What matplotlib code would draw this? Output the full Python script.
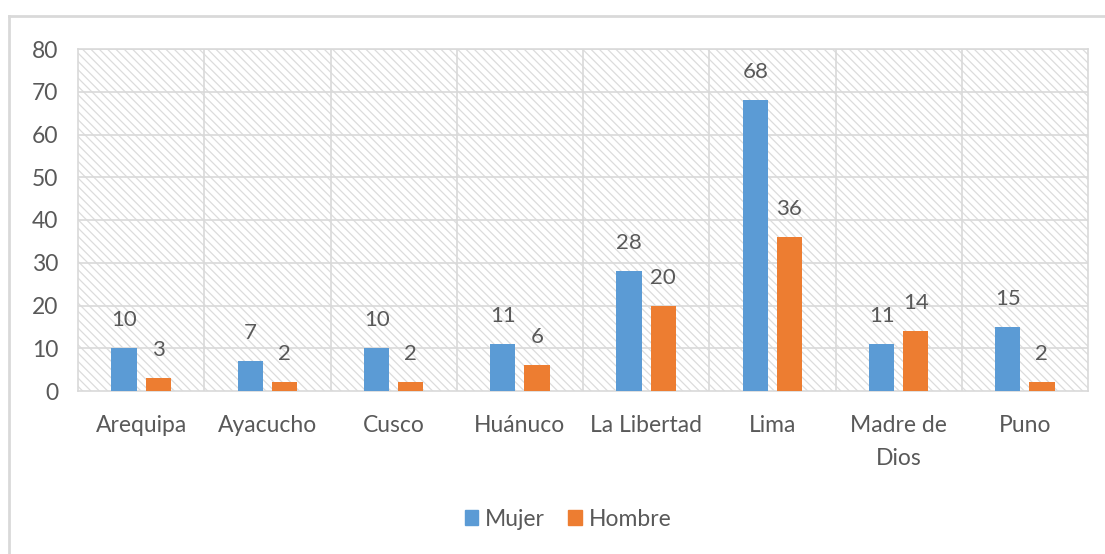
import numpy as np
import matplotlib
matplotlib.use("Agg")
import matplotlib.pyplot as plt
from matplotlib.lines import Line2D
from matplotlib.patches import Patch

departamentos = ["Arequipa", "Ayacucho", "Cusco", "Huánuco", "La Libertad",
                 "Lima", "Madre de\nDios", "Puno"]
mujer = [10, 7, 10, 11, 28, 68, 11, 15]
hombre = [3, 2, 2, 6, 20, 36, 14, 2]
yticks = [0, 10, 20, 30, 40, 50, 60, 70, 80]

azul = "#5B9BD5"
naranja = "#ED7D31"
gris_txt = "#595959"
gris_lin = "#D9D9D9"

plt.rcParams["font.family"] = ["Lato", "DejaVu Sans"]
plt.rcParams["hatch.color"] = "#DCDCDC"
plt.rcParams["hatch.linewidth"] = 0.9

fig = plt.figure(figsize=(11.05, 5.54), dpi=100)
ax = fig.add_axes([78 / 1105, 1 - 391 / 554, 1010 / 1105, 342 / 554])

# fondo rayado del area de trazado
ax.patch.set_hatch("\\\\\\\\")
ax.patch.set_edgecolor("#DCDCDC")
ax.patch.set_linewidth(0)

x = np.arange(len(departamentos))
w = 0.2
off = 0.135
b1 = ax.bar(x - off, mujer, w, color=azul, zorder=3)
b2 = ax.bar(x + off, hombre, w, color=naranja, zorder=3)

for bars, vals in ((b1, mujer), (b2, hombre)):
    for r, v in zip(bars, vals):
        ax.annotate(str(v), (r.get_x() + r.get_width() / 2, v),
                    xytext=(0, 18), textcoords="offset pixels",
                    ha="center", va="bottom", fontsize=16, color=gris_txt)

ax.set_xlim(-0.5, len(departamentos) - 0.5)
ax.set_ylim(0, 80)
ax.set_yticks(yticks)
ax.set_xticks(x)
ax.set_xticklabels(departamentos, fontsize=16.5, color=gris_txt, linespacing=1.7)
ax.tick_params(axis="y", labelsize=16.5, labelcolor=gris_txt, length=0, pad=14)
ax.tick_params(axis="x", length=0, pad=17)
for lbl in ax.get_xticklabels():
    lbl.set_verticalalignment("top")

for yv in yticks[1:]:
    ax.axhline(yv, color=gris_lin, lw=1.2, zorder=1)
for xv in np.arange(0.5, len(departamentos) - 0.5, 1):
    ax.axvline(xv, color=gris_lin, lw=1.2, zorder=1)
for s in ax.spines.values():
    s.set_color(gris_lin)
    s.set_linewidth(1.2)

# marco exterior del grafico
fig.add_artist(Line2D([9 / 1105, 9 / 1105], [1 - 16 / 554, -0.05], color=gris_lin,
                      lw=2, transform=fig.transFigure))
fig.add_artist(Line2D([9 / 1105, 1.05], [1 - 16 / 554, 1 - 16 / 554], color=gris_lin,
                      lw=2, transform=fig.transFigure))

handles = [Patch(color=azul, label="Mujer"), Patch(color=naranja, label="Hombre")]
leg = fig.legend(handles=handles, loc="center", bbox_to_anchor=(568 / 1105, 1 - 519 / 554),
                 ncol=2, frameon=False, fontsize=16.5, handlelength=0.6, handleheight=0.6,
                 handletextpad=0.3, columnspacing=1.0)
for t in leg.get_texts():
    t.set_color(gris_txt)

fig.savefig("out.png", dpi=100)
